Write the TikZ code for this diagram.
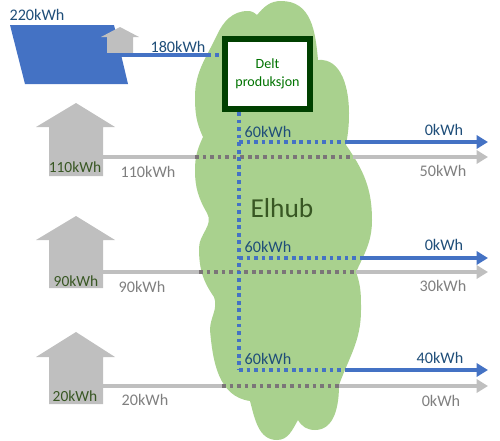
\documentclass[tikz,border=0pt]{standalone}
\usepackage{fontspec}
\setmainfont{Carlito}
\usepackage{xcolor}
\usetikzlibrary{arrows.meta}
\definecolor{cloudgreen}{HTML}{A9D18E}
\definecolor{panelblue}{HTML}{4472C4}
\definecolor{housegray}{HTML}{BFBFBF}
\definecolor{dotgray}{HTML}{7B7578}
\definecolor{boxgreen}{HTML}{004000}
\definecolor{textblue}{HTML}{1F4E79}
\definecolor{textgray}{HTML}{7F7F7F}
\definecolor{textgreen}{HTML}{385723}
\tikzset{
	kwhblue/.style={text=textblue, font=\fontsize{9.2}{11}\selectfont, inner sep=0pt},
	kwhgray/.style={text=textgray, font=\fontsize{9.2}{11}\selectfont, inner sep=0pt},
	kwhgreen/.style={text=textgreen, font=\fontsize{8.8}{11}\selectfont, inner sep=0pt},
	blueline/.style={draw=panelblue, line width=2pt},
	grayline/.style={draw=housegray, line width=2pt},
	bluedots/.style={draw=panelblue, line width=2.1pt, dash pattern=on 2.1pt off 2.2pt},
	graydots/.style={draw=dotgray, line width=2.1pt, dash pattern=on 2.1pt off 2.2pt},
	outtip/.style={-{Triangle[length=6.5pt,width=7.5pt]}}
}

\begin{document}
\begin{tikzpicture}[x=0.02cm,y=-0.02cm]
	\useasboundingbox (0,0) rectangle (500,440);

	% skyen
	\fill[cloudgreen] (203,137) to[out=115,in=-90] (195,97) to[out=90,in=-115] (217,35) to[out=65,in=180] (248,11) to[out=0,in=140] (257,15)
		to[out=50,in=180] (281,1) to[out=0,in=95,looseness=1.1] (318,60)
		to[out=5,in=90] (349,113) to[out=-90,in=80] (346,145)
		to[out=-55,in=90] (372,220) to[out=-90,in=65] (356,272)
		to[out=-70,in=90] (361,310) to[out=-90,in=70] (339,385) to[out=-90,in=0] (315,430) to[out=180,in=-60] (298,420)
		to[out=-120,in=0] (277,440) to[out=180,in=-75] (250,401)
		to[out=172,in=-85] (210,330) to[out=90,in=-70] (214,297)
		to[out=125,in=-90] (199,248) to[out=90,in=-60] (207,213)
		to[out=120,in=-90] (195,170) to[out=90,in=-115] (203,137) -- cycle;

	% solcellepanel og hus
	\fill[panelblue] (10,25) -- (114,25) -- (128,84) -- (25,84) -- cycle;
	\fill[housegray] (120,27) -- (139,37) -- (133,37) -- (133,53) -- (107,53) -- (107,37) -- (101,37) -- cycle;
	\fill[housegray] (76,103) -- (115,127) -- (103,127) -- (103,176) -- (49,176) -- (49,127) -- (36,127) -- cycle;
	\fill[housegray] (76,216) -- (115,240) -- (103,240) -- (103,288) -- (49,288) -- (49,240) -- (36,240) -- cycle;
	\fill[housegray] (76,332) -- (115,357) -- (103,357) -- (103,404) -- (49,404) -- (49,357) -- (36,357) -- cycle;

	% boks for delt produksjon
	\node[draw=boxgreen, fill=white, line width=3.2pt, minimum width=1.7cm, minimum height=1.41cm, inner sep=0pt, align=center, text=green!45!black, font=\fontsize{8}{10.2}\selectfont] (delt) at (267.5,74) {Delt\\produksjon};

	\coordinate (pv) at (107,55);
	\coordinate (pvend) at (211,55);
	\coordinate (pvdot) at (215,55);
	\coordinate (hus1) at (103,157);
	\coordinate (hus2) at (103,272);
	\coordinate (hus3) at (103,386);
	\coordinate (g1a) at (195,157);
	\coordinate (g1b) at (353,157);
	\coordinate (g1c) at (488,157);
	\coordinate (g2a) at (199,272);
	\coordinate (g2b) at (356,272);
	\coordinate (g2c) at (488,272);
	\coordinate (g3a) at (222,386);
	\coordinate (g3b) at (339,386);
	\coordinate (g3c) at (488,386);
	\coordinate (b1a) at (239,142);
	\coordinate (b1b) at (347,142);
	\coordinate (b1c) at (488,142);
	\coordinate (b2a) at (239,258);
	\coordinate (b2b) at (363,258);
	\coordinate (b2c) at (488,258);
	\coordinate (b3a) at (239,370);
	\coordinate (b3b) at (347,370);
	\coordinate (b3c) at (488,370);

	% forbruk
	\draw[grayline] (hus1) -- (g1a);
	\draw[graydots] (g1a) -- (g1b);
	\draw[grayline,outtip] (g1b) -- (g1c);
	\draw[grayline] (hus2) -- (g2a);
	\draw[graydots] (g2a) -- (g2b);
	\draw[grayline,outtip] (g2b) -- (g2c);
	\draw[grayline] (hus3) -- (g3a);
	\draw[graydots] (g3a) -- (g3b);
	\draw[grayline,outtip] (g3b) -- (g3c);

	% delt energi
	\draw[blueline] (pv) -- (pvend);
	\draw[bluedots, shorten >=2pt] (pvdot) -- (delt.west |- pvdot);
	\draw[bluedots] (delt.south -| b1a) -- (b3a);
	\draw[bluedots] (b1a) -- (b1b);
	\draw[blueline,outtip] (b1b) -- (b1c);
	\draw[bluedots] (b2a) -- (b2b);
	\draw[blueline,outtip] (b2b) -- (b2c);
	\draw[bluedots] (b3a) -- (b3b);
	\draw[blueline,outtip] (b3b) -- (b3c);

	\node[kwhblue] (pvtotal) at (37,15) {220kWh};
	\node[kwhblue] (pvshare) at (178,47) {180kWh};
	\node[text=textgreen, inner sep=0pt, font=\fontsize{15.6}{18}\selectfont] (elhub) at (282,208) {Elhub};

	\node[kwhgreen] (h1) at (75,167) {110kWh};
	\node[kwhgreen] (h2) at (76,281) {90kWh};
	\node[kwhgreen] (h3) at (75,396) {20kWh};
	\node[kwhgray] (l1) at (148,172) {110kWh};
	\node[kwhgray] (l2) at (142,287) {90kWh};
	\node[kwhgray] (l3) at (145,400) {20kWh};

	\node[kwhblue] (s1) at (268,132) {60kWh};
	\node[kwhblue] (s2) at (268,247) {60kWh};
	\node[kwhblue] (s3) at (268,359) {60kWh};

	\node[kwhblue] (r1) at (444,130) {0kWh};
	\node[kwhgray] (o1) at (443,171) {50kWh};
	\node[kwhblue] (r2) at (444,245) {0kWh};
	\node[kwhgray] (o2) at (443,286) {30kWh};
	\node[kwhblue] (r3) at (440,358) {40kWh};
	\node[kwhgray] (o3) at (441,401) {0kWh};
\end{tikzpicture}
\end{document}
